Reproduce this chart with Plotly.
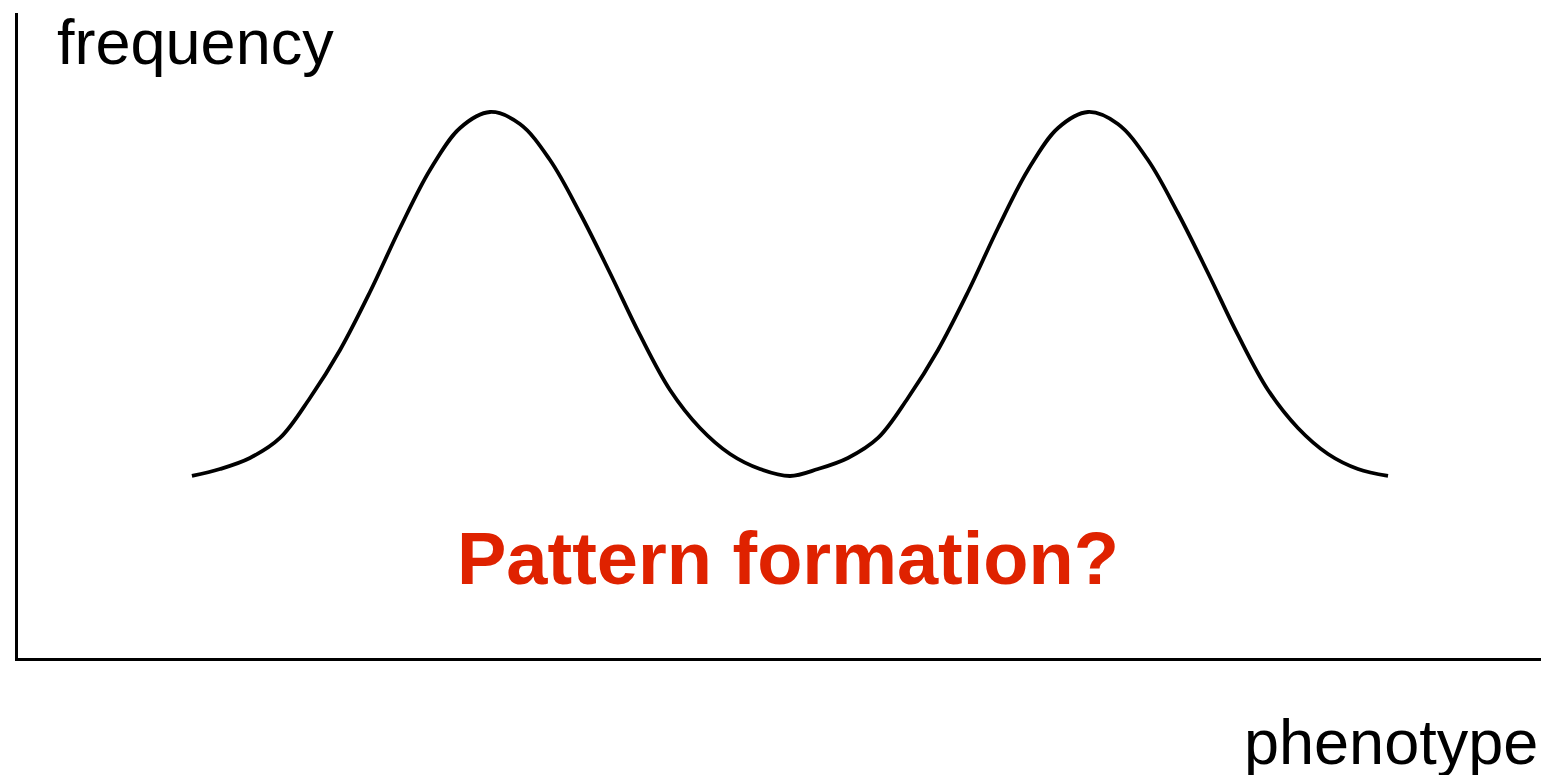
import plotly.graph_objects as go

# Curve values (phenotype on 0-100 scale, frequency 0-100 scale)
phenotype = [11.39, 13.23, 15.19, 17.16, 19.12, 21.09, 23.05, 25.02, 26.98, 28.95, 30.91,
             32.87, 34.84, 36.80, 38.77, 40.73, 42.70, 44.66, 46.63, 48.59, 50.56,
             52.39, 54.35, 56.32, 58.28, 60.25, 62.21, 64.18, 66.14, 68.11, 70.07,
             72.03, 74.00, 75.96, 77.93, 79.89, 81.86, 83.82, 85.79, 87.75, 89.72]
frequency = [28.22, 29.30, 31.01, 34.11, 40.31, 47.75, 56.74, 66.67, 75.66, 82.17, 84.65,
             82.79, 77.21, 68.99, 59.69, 50.08, 41.55, 35.66, 31.63, 29.30, 28.22,
             29.30, 31.01, 34.11, 40.31, 47.75, 56.74, 66.67, 75.66, 82.17, 84.65,
             82.79, 77.21, 68.99, 59.69, 50.08, 41.55, 35.66, 31.63, 29.30, 28.22]

x_label = "phenotype"
y_label = "frequency"
title_text = "Pattern formation?"

fig = go.Figure()
fig.add_trace(go.Scatter(x=phenotype, y=frequency, mode="lines",
                         line=dict(color="black", width=3.8, shape="spline", smoothing=1.0),
                         hoverinfo="skip", showlegend=False))

fig.update_xaxes(range=[0, 100], showline=True, linecolor="black", linewidth=3,
                 showgrid=False, zeroline=False, showticklabels=False, ticks="")
fig.update_yaxes(range=[0, 100], showline=True, linecolor="black", linewidth=3,
                 showgrid=False, zeroline=False, showticklabels=False, ticks="")

font_family = "Liberation Sans, Arial, sans-serif"
fig.add_annotation(x=2.4, y=95.5, xref="x", yref="y", text=y_label, showarrow=False,
                   xanchor="left", yanchor="middle",
                   font=dict(family=font_family, size=63, color="black"))
fig.add_annotation(x=0.997, y=-0.13, xref="paper", yref="paper", text=x_label, showarrow=False,
                   xanchor="right", yanchor="middle",
                   font=dict(family=font_family, size=63, color="black"))
fig.add_annotation(x=50.4, y=15.5, xref="x", yref="y", text="<b>" + title_text + "</b>",
                   showarrow=False, xanchor="center", yanchor="middle",
                   font=dict(family=font_family, size=74, color="#DF2200"))

fig.update_layout(width=1549, height=775, margin=dict(l=10, r=12, t=5, b=125),
                  paper_bgcolor="white", plot_bgcolor="white")

fig.write_html("out.html")
